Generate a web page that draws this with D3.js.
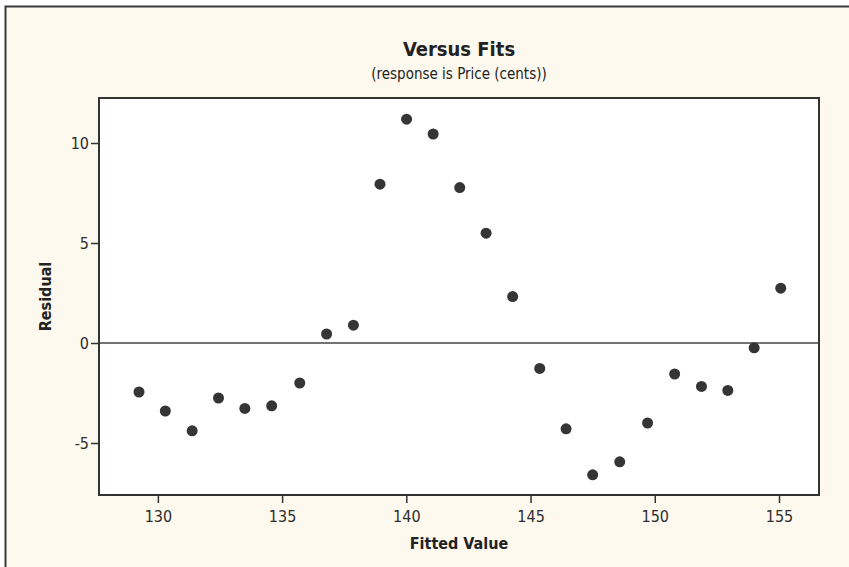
<!DOCTYPE html>
<html>
<head>
<meta charset="utf-8">
<script src="https://cdn.jsdelivr.net/npm/d3@7"></script>
<style>
  body { margin: 0; background: #ffffff; }
  svg { display: block; }
</style>
</head>
<body>
<div id="chart"></div>
<script>
// Data
var fittedValues = [129.24, 130.30, 131.38, 132.44, 133.50, 134.58, 135.71, 136.79, 137.87,
                    138.94, 140.01, 141.08, 142.15, 143.21, 144.28, 145.37, 146.43, 147.50,
                    148.59, 149.71, 150.80, 151.88, 152.94, 154.00, 155.07];
var residuals = [-2.45, -3.40, -4.39, -2.75, -3.27, -3.14, -2.00, 0.45, 0.89,
                 7.94, 11.19, 10.45, 7.77, 5.49, 2.32, -1.27, -4.29, -6.59,
                 -5.94, -4.00, -1.55, -2.17, -2.37, -0.24, 2.74];
var xTicks = [130, 135, 140, 145, 150, 155];
var yTicks = [-5, 0, 5, 10];

var width = 849, height = 567;
var margin = {top: 98, right: 30, bottom: 72, left: 99};
var innerW = 819 - margin.left, innerH = 495 - margin.top;
var font = "'DejaVu Sans Condensed', 'DejaVu Sans', Tahoma, sans-serif";

var svg = d3.select("#chart").append("svg")
    .attr("width", width)
    .attr("height", height);

// Cream panel with a dark frame on the left and top
svg.append("rect")
    .attr("x", 5).attr("y", 6)
    .attr("width", width - 5).attr("height", height - 6)
    .attr("fill", "#fdf9ee");
svg.append("path")
    .attr("d", "M5.5," + height + "V6.5H" + width)
    .attr("fill", "none")
    .attr("stroke", "#3a3a3a")
    .attr("stroke-width", 2);

var x = d3.scaleLinear().domain([127.63, 156.61]).range([0, innerW]);
var y = d3.scaleLinear().domain([-7.6, 12.25]).range([innerH, 0]);

var g = svg.append("g")
    .attr("transform", "translate(" + margin.left + "," + margin.top + ")");

g.append("rect")
    .attr("width", innerW).attr("height", innerH)
    .attr("fill", "#ffffff");

// Reference line at zero
g.append("line")
    .attr("x1", 0).attr("x2", innerW)
    .attr("y1", y(0)).attr("y2", y(0))
    .attr("stroke", "#444").attr("stroke-width", 1.5);

// Axes (plain hyphen for negatives, as in the original)
var fmt = function(d){ return String(d); };
var xAxis = g.append("g")
    .attr("transform", "translate(0," + innerH + ")")
    .call(d3.axisBottom(x).tickValues(xTicks).tickFormat(fmt).tickSize(8).tickSizeOuter(0).tickPadding(8));
var yAxis = g.append("g")
    .call(d3.axisLeft(y).tickValues(yTicks).tickFormat(fmt).tickSize(8).tickSizeOuter(0).tickPadding(2));

[xAxis, yAxis].forEach(function(a){
  a.select(".domain").remove();
  a.selectAll("line").attr("stroke", "#333").attr("stroke-width", 1.5);
  a.selectAll("text")
    .attr("fill", "#2e2e2e")
    .style("font-family", font)
    .style("font-size", "16px");
});

// Plot frame
g.append("rect")
    .attr("width", innerW).attr("height", innerH)
    .attr("fill", "none")
    .attr("stroke", "#333").attr("stroke-width", 2);

// Points
g.selectAll(".dot")
    .data(fittedValues)
    .enter().append("circle")
    .attr("class", "dot")
    .attr("cx", function(d){ return x(d); })
    .attr("cy", function(d, i){ return y(residuals[i]); })
    .attr("r", 5.5)
    .attr("fill", "#353535");

// Titles
svg.append("text")
    .attr("x", margin.left + innerW / 2).attr("y", 56)
    .attr("text-anchor", "middle")
    .style("font-family", font).style("font-size", "20px").style("font-weight", "bold")
    .attr("fill", "#222")
    .text("Versus Fits");
svg.append("text")
    .attr("x", margin.left + innerW / 2).attr("y", 79)
    .attr("text-anchor", "middle")
    .style("font-family", font).style("font-size", "15px")
    .attr("fill", "#222")
    .text("(response is Price (cents))");

svg.append("text")
    .attr("x", margin.left + innerW / 2).attr("y", 549)
    .attr("text-anchor", "middle")
    .style("font-family", font).style("font-size", "16px").style("font-weight", "bold")
    .attr("fill", "#222")
    .text("Fitted Value");
svg.append("text")
    .attr("transform", "translate(51," + (margin.top + innerH / 2) + ") rotate(-90)")
    .attr("text-anchor", "middle")
    .style("font-family", font).style("font-size", "16px").style("font-weight", "bold")
    .attr("fill", "#222")
    .text("Residual");
</script>
</body>
</html>
